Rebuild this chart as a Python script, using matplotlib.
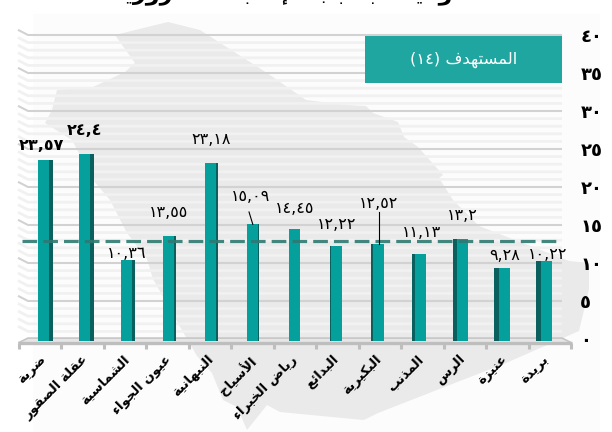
import matplotlib
matplotlib.use("Agg")
import matplotlib.pyplot as plt
from matplotlib.patches import Polygon, Rectangle
from matplotlib.transforms import ScaledTranslation

# ---------- data ----------
categories = ["ضرية", "عقلة الصقور", "الشماسية", "عيون الجواء", "النبهانية", "الأسياح",
              "رياض الخبراء", "البدائع", "البكيرية", "المذنب", "الرس", "عنيزة", "بريدة"]
values = [23.57, 24.4, 10.36, 13.55, 23.18, 15.09, 14.45, 12.22, 12.52, 11.13, 13.2, 9.28, 10.22]
value_labels = ["٢٣,٥٧", "٢٤,٤", "١٠,٣٦", "١٣,٥٥", "٢٣,١٨", "١٥,٠٩", "١٤,٤٥",
                "١٢,٢٢", "١٢,٥٢", "١١,١٣", "١٣,٢", "٩,٢٨", "١٠,٢٢"]
y_ticks = [0, 5, 10, 15, 20, 25, 30, 35, 40]
y_tick_labels = ["٠", "٥", "١٠", "١٥", "٢٠", "٢٥", "٣٠", "٣٥", "٤٠"]
target_line = 12.9
target_text = "المستهدف"
target_num = "(١٤)"
title_text = "الوفيات بسبب الإصابات المرورية"

# ---------- Arabic shaping (matplotlib has no shaper) ----------
_forms = {}
def _add(ch, start, n):
    _forms[ch] = [chr(start + i) for i in range(n)]
for ch, s, n in [("ء",0xFE80,1),("آ",0xFE81,2),("أ",0xFE83,2),("ؤ",0xFE85,2),("إ",0xFE87,2),("ئ",0xFE89,4),
                 ("ا",0xFE8D,2),("ب",0xFE8F,4),("ة",0xFE93,2),("ت",0xFE95,4),("ث",0xFE99,4),("ج",0xFE9D,4),
                 ("ح",0xFEA1,4),("خ",0xFEA5,4),("د",0xFEA9,2),("ذ",0xFEAB,2),("ر",0xFEAD,2),("ز",0xFEAF,2),
                 ("س",0xFEB1,4),("ش",0xFEB5,4),("ص",0xFEB9,4),("ض",0xFEBD,4),("ط",0xFEC1,4),("ظ",0xFEC5,4),
                 ("ع",0xFEC9,4),("غ",0xFECD,4),("ف",0xFED1,4),("ق",0xFED5,4),("ك",0xFED9,4),("ل",0xFEDD,4),
                 ("م",0xFEE1,4),("ن",0xFEE5,4),("ه",0xFEE9,4),("و",0xFEED,2),("ى",0xFEEF,2),("ي",0xFEF1,4)]:
    _add(ch, s, n)
_lam = {"ا": (0xFEFB, 0xFEFC), "أ": (0xFEF7, 0xFEF8), "إ": (0xFEF9, 0xFEFA), "آ": (0xFEF5, 0xFEF6)}

def shape(text):
    out, i, prev_joins = [], 0, False
    while i < len(text):
        c = text[i]
        if c not in _forms:
            out.append(c); prev_joins = False; i += 1; continue
        if c == "ل" and i + 1 < len(text) and text[i + 1] in _lam:
            out.append(chr(_lam[text[i + 1]][1 if prev_joins else 0]))
            prev_joins = False; i += 2; continue
        f = _forms[c]
        nxt = text[i + 1] if i + 1 < len(text) else ""
        joins_next = len(f) == 4 and nxt in _forms and nxt != "ء"
        if len(f) == 1:
            out.append(f[0])
        elif len(f) == 2:
            out.append(f[1] if prev_joins else f[0])
        else:
            out.append(f[(3 if prev_joins else 2) if joins_next else (1 if prev_joins else 0)])
        prev_joins = joins_next
        i += 1
    return "".join(reversed(out))

# ---------- layout (pixels of the 612x432 picture) ----------
W, H = 612, 432
AX_L, AX_R, AX_T, AX_B = 18, 572, 30, 343
WALL_L, WALL_R = 28, 562
PX_X, PX_Y = 41.96, 7.6
X0, Y0 = 43, 339
px_x = lambda p: (p - X0) / PX_X
px_y = lambda p: (Y0 - p) / PX_Y

FONT = "DejaVu Sans"
fig = plt.figure(figsize=(W / 100, H / 100), dpi=100, facecolor="white")

# pale backdrop and map silhouette
fig_xy = lambda pts: [(x / W, 1 - y / H) for x, y in pts]
fig.patches.append(Rectangle((33 / W, 0), 567 / W, 1 - 14 / H, transform=fig.transFigure,
                             facecolor="#FCFCFC", edgecolor="none", zorder=0))
map_outline = [(168, 22), (200, 30), (267, 73), (306, 100), (346, 105), (366, 106), (373, 113), (398, 122),
               (404, 137), (418, 147), (443, 175), (439, 178), (453, 200), (479, 226), (569, 261), (589, 263),
               (589, 289), (579, 331), (506, 363), (378, 413), (366, 419), (363, 420), (280, 412), (267, 405),
               (247, 430), (237, 407), (223, 400), (212, 373), (197, 356), (187, 339), (153, 279), (147, 259),
               (127, 233), (110, 200), (93, 180), (72, 140), (45, 123), (52, 110), (57, 90), (93, 87),
               (125, 72), (135, 63), (115, 35)]
fig.patches.append(Polygon(fig_xy(map_outline), closed=True, transform=fig.transFigure,
                           facecolor="#EAEAEA", edgecolor="none", zorder=0.5))

ax = fig.add_axes([AX_L / W, 1 - AX_B / H, (AX_R - AX_L) / W, (AX_B - AX_T) / H])
ax.set_zorder(2)
ax.patch.set_visible(False)
ax.set_xlim(px_x(AX_L), px_x(AX_R))
ax.set_ylim(px_y(AX_B), px_y(AX_T))
for s in ax.spines.values():
    s.set_visible(False)

# wall gridlines with a short slanted return on the left wall
xl, xr, xd = px_x(WALL_L), px_x(WALL_R), px_x(AX_L)
for v in range(1, 41):
    major = v % 5 == 0
    col, lw = ("#D2D2D2", 1.5) if major else ("#F1F1F1", 2.0)
    z = 1.2 if major else 1.1
    ax.plot([xd, xl, xr], [v + 0.68, v, v], color=col, lw=lw, zorder=z, solid_capstyle="butt", clip_on=False)

# floor
floor_y0 = px_y(AX_B)
ax.fill([xd, xl, xr, px_x(AX_R)], [floor_y0, 0.12, 0.12, floor_y0], color="#E6E6E6", zorder=1.3, lw=0)
ax.plot([xd, xl, xr, px_x(AX_R)], [floor_y0, 0.12, 0.12, floor_y0], color="#C6C6C6", lw=1.2, zorder=1.4)
ax.plot([xd, px_x(AX_R)], [floor_y0, floor_y0], color="#BEBEBE", lw=2.4, zorder=1.5,
        solid_capstyle="butt", clip_on=False)
step = (AX_R - AX_L - 2) / 13
for i in range(14):
    xt = px_x(AX_L + 1 + i * step)
    ax.plot([xt, xt], [floor_y0, px_y(AX_B + 6)], color="#BEBEBE", lw=2.2, clip_on=False,
            solid_capstyle="butt", zorder=1.5)

# bars: front face plus a perspective side face
xs = list(range(len(values)))
bar_w = 11 / PX_X
base = 0.3
for x, v in zip(xs, values):
    side = 4.6 / PX_X * (x - 5.5) / 5.5
    if abs(side) > 1e-6:
        edge = x - bar_w / 2 if side > 0 else x + bar_w / 2
        sx = edge - side / 2
        ax.bar(sx, v + base, width=abs(side), bottom=-base, color="#0A605E", zorder=3, linewidth=0)
ax.bar(xs, [v + base for v in values], width=bar_w, bottom=-base, color="#06A09C", zorder=3.2, linewidth=0)

# target dashed line
ax.plot([px_x(22), px_x(558)], [target_line, target_line], color="#2F7A72", alpha=0.9, lw=2.3,
        dashes=(4.6, 1.9), dash_capstyle="butt", zorder=4)

# value labels (pixel offsets from each bar top)
label_offsets = [(-2, 17), (0, 26), (0, 10), (0, 26), (0, 26), (-2, 31), (0, 23), (0, 24),
                 (0, 43), (1, 25), (0, 26), (0, 16), (1, 10)]
for x, v, t, (dx, dy) in zip(xs, values, value_labels, label_offsets):
    ax.annotate(t, (x, v), xytext=(dx / 1.389, dy / 1.389 - 2), textcoords="offset points",
                ha="center", va="center", fontsize=11.5, fontfamily=FONT, color="black", zorder=6,
                fontweight="bold" if x in (0, 1) else "normal", annotation_clip=False)

# leaders for two labels
for x, top in ((5, 212), (8, 212)):
    ax.plot([x - 0.09 if x == 5 else x, x], [px_y(top), values[x] if x == 5 else target_line - 0.4],
            color="black", lw=0.8, zorder=6)

# target box
ax.add_patch(Rectangle((px_x(365), px_y(83)), (562 - 365) / PX_X, 47 / PX_Y, facecolor="#1FA6A0",
                       edgecolor="none", zorder=5, clip_on=False))
ax.text(px_x(464), px_y(60), target_num + " " + shape(target_text), color="white", fontsize=11.8,
        fontfamily=FONT, ha="center", va="center", zorder=6)

# axis ticks
ax.set_yticks(y_ticks, y_tick_labels, fontsize=13, fontfamily=FONT, fontweight="bold")
ax.yaxis.tick_right()
ax.tick_params(axis="y", length=0, pad=6)
ax.set_xticks(xs, [shape(c) for c in categories], rotation=45, ha="right", rotation_mode="anchor",
              fontsize=9.5, fontfamily=FONT, fontweight="bold")
ax.tick_params(axis="x", length=0, pad=7)
nudge = ScaledTranslation(-4 / 100, 0, fig.dpi_scale_trans)
for lab in ax.get_xticklabels():
    lab.set_transform(lab.get_transform() + nudge)

# title, cut off by the top edge as in the source picture
fig.text(290 / W, 1 - 5 / H, shape(title_text), ha="center", va="bottom", fontsize=16, fontweight="bold",
         fontfamily=FONT, color="black")

fig.savefig("out.png", dpi=100)
